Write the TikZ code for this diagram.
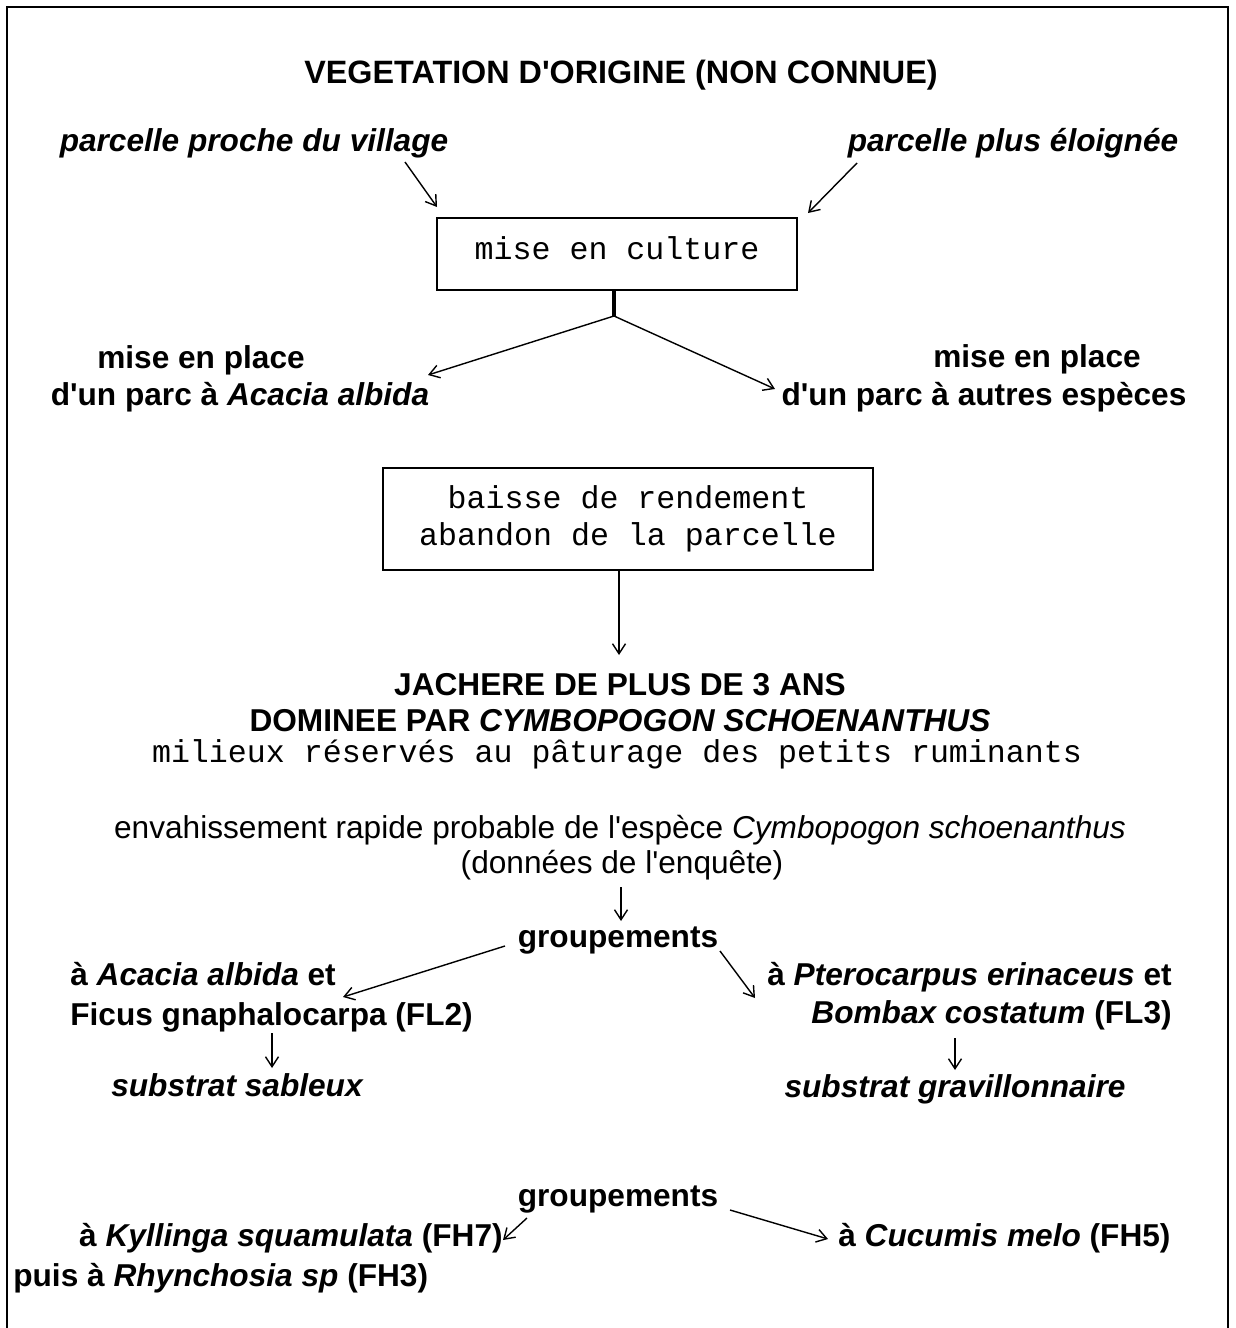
\documentclass[tikz,border=0pt]{standalone}
\usepackage{fontspec}
\setmainfont{Liberation Sans}
\setmonofont{Liberation Mono}
\usetikzlibrary{arrows.meta}
\newcommand{\taille}{\fontsize{18}{21}\selectfont}
\newcommand{\apos}{\textquotesingle}
\tikzset{
  lbl/.style={font=\taille\bfseries, inner sep=0pt, anchor=base},
  ilbl/.style={font=\taille\bfseries\itshape, inner sep=0pt, anchor=base},
  txt/.style={font=\taille, inner sep=0pt, anchor=base},
  mono/.style={font=\taille\ttfamily, inner sep=0pt, anchor=base},
  boite/.style={draw, line width=1pt, font=\taille\ttfamily, align=center},
  fleche/.style={->, line width=0.8pt}
}
\begin{document}
\begin{tikzpicture}[x=0.02cm, y=-0.02cm, >={Straight Barb[length=2mm,width=2.6mm]}]
		\useasboundingbox (0,0) rectangle (1235,1328);
		% frame (open at the bottom)
		\draw[line width=1.6pt] (7,1328) -- (7,7) -- (1228,7) -- (1228,1328);
		% title and the two plots
		\node[lbl, font=\fontsize{18.4}{21}\selectfont\bfseries] (titre) at (621,84) {VEGETATION D\apos ORIGINE (NON CONNUE)};
		\node[ilbl] (proche) at (254,152) {parcelle proche du village};
		\node[ilbl] (eloignee) at (1013,152) {parcelle plus éloignée};
		\node[boite, minimum width=7.2cm, minimum height=1.44cm, text depth=0.24cm] (culture) at (617,254) {mise en culture};
		\coordinate (procheA) at (405,162);
		\coordinate (procheB) at (437,207);
		\coordinate (eloigA) at (857,163);
		\coordinate (eloigB) at (808,213);
		\draw[fleche] (procheA) -- (procheB);
		\draw[fleche] (eloigA) -- (eloigB);
		% the two kinds of park
		\coordinate (fourche) at (614,316);
		\draw[line width=2.5pt] (culture.south -| fourche) -- (fourche);
		\node[lbl] (placeA) at (201,368) {mise en place};
		\node[lbl] (parcA) at (240,405) {d\apos un parc à \textit{Acacia albida}};
		\node[lbl] (placeB) at (1037,367) {mise en place};
		\node[lbl] (parcB) at (984,405) {d\apos un parc à autres espèces};
		\coordinate (parcAend) at (428,375);
		\coordinate (parcBend) at (775,389);
		\draw[fleche] (fourche) -- (parcAend);
		\draw[fleche] (fourche) -- (parcBend);
		% abandonment and fallow
		\node[boite, minimum width=9.8cm, minimum height=2.04cm] (abandon) at (628,519) {baisse de rendement\\abandon de la parcelle};
		\node[lbl] (jachere) at (620,695) {JACHERE DE PLUS DE 3 ANS};
		\node[lbl] (dominee) at (620,731) {DOMINEE PAR \textit{CYMBOPOGON SCHOENANTHUS}};
		\node[mono] (milieux) at (617,762) {milieux réservés au pâturage des petits ruminants};
		\coordinate (jachtop) at (619,655);
		\draw[fleche] (abandon.south -| jachtop) -- (jachtop);
		\node[txt] (envahi) at (620,838) {envahissement rapide probable de l\apos espèce \textit{Cymbopogon schoenanthus}};
		\node[txt] (enquete) at (622,873) {(données de l\apos enquête)};
		% woody groupings
		\node[lbl] (grpA) at (618,947) {groupements};
		\coordinate (enqA) at (621,887);
		\coordinate (enqB) at (621,921);
		\draw[fleche] (enqA) -- (enqB);
		\node[lbl, anchor=base west] (acacia) at (70,985) {à \textit{Acacia albida} et};
		\node[lbl, anchor=base west] (ficus) at (70,1025) {Ficus gnaphalocarpa (FL2)};
		\node[lbl, anchor=base east] (ptero) at (1172,985) {à \textit{Pterocarpus erinaceus} et};
		\node[lbl, anchor=base east] (bombax) at (1172,1023) {\textit{Bombax costatum} (FL3)};
		\coordinate (grpAl) at (505,946);
		\coordinate (acaciaend) at (343,997);
		\coordinate (grpAr) at (720,951);
		\coordinate (pteroend) at (755,998);
		\draw[fleche] (grpAl) -- (acaciaend);
		\draw[fleche] (grpAr) -- (pteroend);
		\node[ilbl] (sable) at (237,1096) {substrat sableux};
		\node[ilbl] (gravil) at (955,1097) {substrat gravillonnaire};
		\coordinate (ficusA) at (272,1033);
		\coordinate (ficusB) at (272,1068);
		\coordinate (bombaxA) at (955,1038);
		\coordinate (bombaxB) at (955,1070);
		\draw[fleche] (ficusA) -- (ficusB);
		\draw[fleche] (bombaxA) -- (bombaxB);
		% herbaceous groupings
		\node[lbl] (grpB) at (618,1206) {groupements};
		\node[lbl, anchor=base east] (kyll) at (503,1246) {à \textit{Kyllinga squamulata} (FH7)};
		\node[lbl, anchor=base west] (rhyn) at (13,1286) {puis à \textit{Rhynchosia sp} (FH3)};
		\node[lbl, anchor=base west] (cucu) at (838,1246) {à \textit{Cucumis melo} (FH5)};
		\coordinate (grpBl) at (527,1218);
		\coordinate (kyllend) at (503,1240);
		\coordinate (grpBr) at (730,1210);
		\coordinate (cucuend) at (828,1239);
		\draw[fleche] (grpBl) -- (kyllend);
		\draw[fleche] (grpBr) -- (cucuend);
	\end{tikzpicture}
\end{document}
